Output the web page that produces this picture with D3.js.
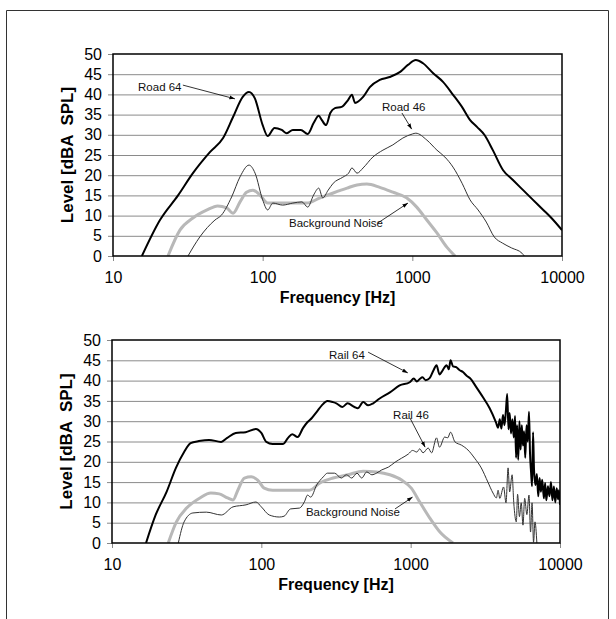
<!DOCTYPE html>
<html>
<head>
<meta charset="utf-8">
<script src="https://d3js.org/d3.v7.min.js"></script>
<style>
  body { margin: 0; background: #fff; }
  svg text { font-family: "Liberation Sans", Arial, sans-serif; }
</style>
</head>
<body>
<div id="chart"></div>
<script>
// [frequency Hz, level dBA]
const road64 = [[15.6,0],[20.6,8.9],[27.2,15],[34.2,20.5],[44.4,25.7],[54.4,29.2],[63.4,34.4],[73.6,39.4],[81,40.6],[88.7,39],[100,32.4],[108,29.7],[120,31.7],[134,31.2],[145,30.4],[159,31.2],[180,31.2],[200,30.2],[219,32.9],[237,34.7],[248,33.7],[265,32.4],[283,35.4],[304,36.6],[337,36.9],[372,38.6],[395,39.9],[414,37.9],[469,39.4],[520,41.8],[606,43.6],[706,44.3],[824,45.5],[934,47.3],[1055,48.5],[1178,47.7],[1373,45.3],[1603,43.1],[1872,39.9],[2146,36.9],[2425,33.7],[2713,31.9],[3045,29.9],[3450,26.2],[4030,21.3],[4700,18.8],[5500,16.3],[6400,13.9],[7500,11.4],[8500,9.4],[10000,6.4]];
const road46 = [[31.7,0],[38,4.7],[48,8.9],[53,10.1],[62,14.6],[70.6,19.6],[81,22.5],[89,20.5],[100,13.9],[108,11.4],[117,13.1],[136,12.6],[159,13.1],[183,13.4],[200,12.1],[219,15.1],[237,16.8],[252,14.4],[274,16.3],[296,18],[343,19.5],[375,20.5],[395,21.8],[427,20.5],[469,21.8],[545,24.5],[636,26.2],[741,27.5],[864,29.2],[1000,30.2],[1055,30.4],[1250,28.7],[1460,26.2],[1650,24.5],[1870,22],[2150,18],[2430,13.9],[2750,11.4],[3120,8.4],[3530,4.7],[4000,3.2],[4600,2],[5400,0.7],[5600,0]];
const noiseTop = [[23.3,0],[28,6.4],[34.2,9.4],[42.5,11.4],[50,12.4],[57.5,11.9],[63.4,10.6],[70.6,13.4],[78,15.8],[86,16.3],[96,15.1],[108,13.1],[130,13.1],[159,13.1],[197,13.1],[242,14.4],[296,15.6],[366,16.8],[427,17.6],[497,17.8],[606,17],[741,15.8],[915,14.4],[1070,12.1],[1250,8.9],[1460,5.7],[1700,2.2],[1930,0]];

const rail64 = [[16.9,0],[19.6,6.9],[23.2,12.6],[26.8,18.5],[30.4,22.4],[33.6,24.6],[38.2,25.1],[44.7,25.4],[53.8,24.9],[59.1,25.9],[67.4,27.1],[78.5,27.3],[92,28.1],[100,27.1],[108,24.9],[119,24.4],[140,24.4],[151,25.9],[161,26.8],[175,26.1],[190,28.3],[204,29.8],[218,30.8],[235,32.3],[254,33.9],[277,35],[302,34.7],[318,34.4],[349,33.5],[378,34.4],[420,33.5],[442,33.2],[481,34.7],[519,33.9],[561,34.4],[620,35.6],[726,37.1],[844,38.8],[985,39.6],[1050,40.5],[1100,39.8],[1150,40.4],[1200,40.8],[1260,40.1],[1340,40.6],[1420,42.5],[1490,43.8],[1560,41.5],[1610,42.1],[1680,43.2],[1740,43.8],[1800,42.8],[1850,45],[1920,43.5],[2020,43.3],[2120,42.6],[2240,42.1],[2370,41.2],[2500,40.6],[2750,38.4],[3050,35.9],[3380,33.2],[3720,29.8],[3850,28.4],[3950,30.5],[4050,28.2],[4150,31.5],[4250,29],[4350,33],[4430,36.7],[4520,28],[4600,32],[4700,27],[4800,30.5],[4900,26],[5000,31.3],[5080,21],[5160,29],[5250,20.5],[5350,30],[5450,23],[5550,29],[5650,24],[5750,27.5],[5850,21],[5970,29],[6080,25],[6200,32.3],[6300,22],[6400,17.5],[6500,14],[6600,27.3],[6700,18],[6850,14.3],[7000,17],[7150,11.5],[7300,16],[7450,12.6],[7600,15.6],[7800,11],[7950,14.8],[8100,10.5],[8300,14],[8500,11.5],[8700,15],[8900,10.5],[9100,13.9],[9300,10],[9500,13.5],[9700,10.8],[9850,13],[10000,9.4]];
const rail46 = [[27.8,0],[30.4,5.2],[34.8,7.4],[42.8,7.6],[54,6.9],[64.6,8.9],[79,9.4],[92,10.1],[100,8.9],[113,6.9],[132,6.4],[142,6.6],[157,8.4],[180,8.6],[194,10.1],[204,11.8],[214,11.3],[235,14.3],[260,16.3],[277,17.2],[309,17.2],[343,16],[371,16.8],[403,16],[437,17.2],[470,16],[508,17.5],[550,16.8],[590,17.2],[640,18],[710,18.7],[786,19.9],[870,20.9],[964,21.9],[1030,22.8],[1100,22.4],[1150,23.2],[1210,22.2],[1310,23.4],[1380,22.2],[1490,25.9],[1560,23.6],[1690,26.1],[1770,25.9],[1850,27.3],[1980,24.9],[2190,24.1],[2420,22.9],[2680,20.9],[2970,18.5],[3290,15],[3560,12.3],[3750,11.1],[3850,13],[3950,11],[4190,13.8],[4350,9.9],[4490,18.5],[4600,12.6],[4780,16.8],[4900,10],[5100,5.2],[5200,12],[5350,6.5],[5500,9.9],[5650,4.4],[5800,11],[6000,7],[6200,11.8],[6350,2.7],[6500,9.9],[6650,0.2],[6800,5.2],[7000,0]];
const noiseBottom = [[23.8,0],[27,5.2],[31.6,8.6],[38.8,11.1],[45.9,12.3],[52.3,12.1],[59.4,11.1],[64.6,10.6],[69.6,13],[77,16],[85.5,16.3],[94.5,15.5],[104.6,13.5],[119,13],[146,13],[180,13],[210,13],[247,14.8],[302,16],[380,16.8],[480,17.7],[590,17.5],[726,16.8],[870,15.5],[1010,13.5],[1150,10.1],[1340,6.2],[1570,2.7],[1920,0]];

const xTicks = [10, 100, 1000, 10000];
const yTicks = [0, 5, 10, 15, 20, 25, 30, 35, 40, 45, 50];

// labels: text, text anchor [f, level], arrow from [f, level], arrow to [f, level]
const notesTop = [
  {text: "Road 64", at: [14.7, 41.8], from: [29.3, 42.3], to: [65.3, 38.9]},
  {text: "Road 46", at: [627, 36.9], from: [852, 35.4], to: [990, 31.4]},
  {text: "Background Noise", at: [150, 8.2], from: [590, 8.2], to: [935, 13.1]}
];
const notesBottom = [
  {text: "Rail 64", at: [284, 46.3], from: [519, 47], to: [957, 41.9]},
  {text: "Rail 46", at: [763, 31.5], from: [989, 30.8], to: [1250, 23.6]},
  {text: "Background Noise", at: [199, 7.6], from: [786, 8.4], to: [1030, 11.3]}
];

const W = 616, H = 619;

const svg = d3.select("#chart").append("svg")
  .attr("width", W)
  .attr("height", H);

svg.append("defs").append("marker")
  .attr("id", "arrow")
  .attr("viewBox", "0 0 10 10")
  .attr("refX", 10).attr("refY", 5)
  .attr("markerWidth", 7).attr("markerHeight", 7)
  .attr("orient", "auto")
  .append("path")
  .attr("d", "M0,1.5 L10,5 L0,8.5 Z")
  .attr("fill", "#000");

// outer frame (open at bottom)
svg.append("path")
  .attr("d", "M6.5,619 V10.5 H608.5 V619")
  .attr("fill", "none")
  .attr("stroke", "#333")
  .attr("stroke-width", 1);

function drawPanel(box, series, notes, id) {
  const x = d3.scaleLog().domain([10, 10000]).range([box.left, box.right]);
  const y = d3.scaleLinear().domain([0, 50]).range([box.bottom, box.top]);

  const g = svg.append("g");

  g.append("clipPath").attr("id", id)
    .append("rect")
    .attr("x", box.left).attr("y", box.top - 2)
    .attr("width", box.right - box.left)
    .attr("height", box.bottom - box.top + 2);

  // gridlines
  g.selectAll("line.grid")
    .data(yTicks.filter(d => d > 0 && d < 50))
    .join("line")
    .attr("class", "grid")
    .attr("x1", box.left).attr("x2", box.right)
    .attr("y1", d => y(d) + 0.5).attr("y2", d => y(d) + 0.5)
    .attr("stroke", "#8a8a8a")
    .attr("stroke-width", 1);

  // y axis
  const yAxis = g.append("g")
    .attr("transform", "translate(" + box.left + ",0)")
    .call(d3.axisLeft(y).tickValues(yTicks).tickSize(5).tickPadding(6));
  yAxis.select(".domain").remove();
  yAxis.selectAll("line").attr("stroke", "#888");
  yAxis.selectAll("text")
    .style("font-size", "16px")
    .style("fill", "#000");

  // x axis
  const xAxis = g.append("g")
    .attr("transform", "translate(0," + box.bottom + ")")
    .call(d3.axisBottom(x).tickValues(xTicks).tickFormat(d3.format("d")).tickSize(5).tickPadding(11));
  xAxis.select(".domain").remove();
  xAxis.selectAll("line").attr("stroke", "#888");
  xAxis.selectAll("text")
    .style("font-size", "16px")
    .style("fill", "#000");

  const line = d3.line()
    .x(d => x(d[0]))
    .y(d => y(d[1]))
    .curve(d3.curveMonotoneX);

  const lines = g.append("g").attr("clip-path", "url(#" + id + ")");
  series.forEach(s => {
    lines.append("path")
      .datum(s.data)
      .attr("d", line)
      .attr("fill", "none")
      .attr("stroke", s.color)
      .attr("stroke-width", s.width)
      .attr("stroke-linejoin", "round");
  });

  // plot frame
  g.append("rect")
    .attr("x", box.left).attr("y", box.top)
    .attr("width", box.right - box.left)
    .attr("height", box.bottom - box.top)
    .attr("fill", "none")
    .attr("stroke", "#000")
    .attr("stroke-width", 1.5);

  // labels with arrows
  notes.forEach(n => {
    g.append("text")
      .attr("x", x(n.at[0]))
      .attr("y", y(n.at[1]))
      .attr("dy", "0.35em")
      .style("font-size", "11.5px")
      .style("fill", "#111")
      .text(n.text);
    g.append("line")
      .attr("x1", x(n.from[0])).attr("y1", y(n.from[1]))
      .attr("x2", x(n.to[0])).attr("y2", y(n.to[1]))
      .attr("stroke", "#000")
      .attr("stroke-width", 0.8)
      .attr("marker-end", "url(#arrow)");
  });

  // axis titles
  g.append("text")
    .attr("x", (box.left + box.right) / 2)
    .attr("y", box.bottom + 47)
    .attr("text-anchor", "middle")
    .style("font-size", "16px")
    .style("font-weight", "bold")
    .text("Frequency [Hz]");

  g.append("text")
    .attr("transform", "translate(" + (box.left - 40) + "," + ((box.top + box.bottom) / 2) + ") rotate(-90)")
    .attr("text-anchor", "middle")
    .style("font-size", "17px")
    .style("font-weight", "bold")
    .style("white-space", "pre")
    .text("Level [dBA  SPL]");
}

const blackLine = "#000", darkLine = "#333", lightLine = "#b8b8b8";

drawPanel({left: 113, right: 562, top: 54, bottom: 256}, [
  {data: noiseTop, color: lightLine, width: 3},
  {data: road46, color: darkLine, width: 1},
  {data: road64, color: blackLine, width: 2}
], notesTop, "clipTop");

drawPanel({left: 112, right: 560, top: 340, bottom: 543}, [
  {data: noiseBottom, color: lightLine, width: 3},
  {data: rail46, color: darkLine, width: 1},
  {data: rail64, color: blackLine, width: 2}
], notesBottom, "clipBottom");
</script>
</body>
</html>
